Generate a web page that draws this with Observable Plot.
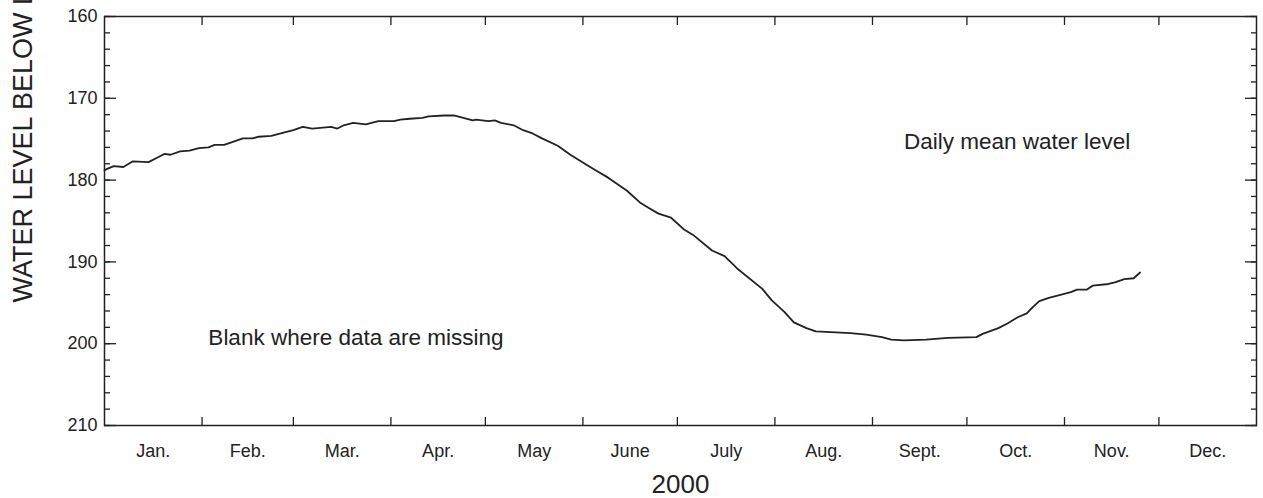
<!DOCTYPE html>
<html>
<head>
<meta charset="utf-8">
<script src="https://cdn.jsdelivr.net/npm/d3@7"></script>
<script src="https://cdn.jsdelivr.net/npm/@observablehq/plot@0.6"></script>
<style>
  body { margin: 0; background: #fff; }
</style>
</head>
<body>
<div id="chart"></div>
<script>
// Daily mean water level, 2000 (feet below land surface)
const dates = [
  "2000-01-01","2000-01-02","2000-01-04","2000-01-07","2000-01-10","2000-01-15","2000-01-18","2000-01-20",
  "2000-01-22","2000-01-25","2000-01-28","2000-01-31","2000-02-03","2000-02-05","2000-02-08","2000-02-11",
  "2000-02-14","2000-02-17","2000-02-19","2000-02-23","2000-02-26","2000-03-01","2000-03-04","2000-03-07",
  "2000-03-13","2000-03-15","2000-03-17","2000-03-20","2000-03-24","2000-03-28","2000-04-02","2000-04-04",
  "2000-04-07","2000-04-11","2000-04-13","2000-04-18","2000-04-21","2000-04-24","2000-04-27","2000-04-28",
  "2000-05-02","2000-05-04","2000-05-06","2000-05-10","2000-05-13","2000-05-16","2000-05-19","2000-05-24",
  "2000-05-28","2000-06-02","2000-06-05","2000-06-09","2000-06-12","2000-06-15","2000-06-19","2000-06-21",
  "2000-06-25","2000-06-29","2000-07-03","2000-07-06","2000-07-12","2000-07-16","2000-07-20","2000-07-28",
  "2000-07-31","2000-08-04","2000-08-07","2000-08-11","2000-08-14","2000-08-25","2000-08-30","2000-09-04",
  "2000-09-07","2000-09-11","2000-09-18","2000-09-25","2000-10-04","2000-10-06","2000-10-11","2000-10-14",
  "2000-10-17","2000-10-20","2000-10-22","2000-10-24","2000-10-27","2000-10-31","2000-11-03","2000-11-05",
  "2000-11-08","2000-11-10","2000-11-15","2000-11-17","2000-11-20","2000-11-23","2000-11-25"
];
const levels = [
  178.8,178.6,178.3,178.4,177.7,177.8,177.2,176.8,
  176.9,176.5,176.4,176.1,176.0,175.7,175.7,175.3,
  174.9,174.9,174.7,174.6,174.3,173.9,173.5,173.7,
  173.5,173.7,173.3,173.0,173.2,172.8,172.8,172.6,
  172.5,172.4,172.2,172.1,172.1,172.4,172.7,172.6,
  172.8,172.7,173.0,173.3,173.9,174.3,174.9,175.8,
  176.9,178.1,178.8,179.7,180.5,181.3,182.7,183.2,
  184.1,184.6,186.0,186.7,188.6,189.3,190.8,193.3,
  194.7,196.1,197.4,198.1,198.5,198.7,198.9,199.2,
  199.5,199.6,199.5,199.3,199.2,198.8,198.1,197.5,
  196.8,196.3,195.5,194.8,194.4,194.0,193.7,193.4,
  193.4,192.9,192.7,192.5,192.1,192.0,191.3
];

const monthLabels = ["Jan.","Feb.","Mar.","Apr.","May","June","July","Aug.","Sept.","Oct.","Nov.","Dec."];
const yearLabel = "2000";
const yTitle = "WATER LEVEL BELOW LAND SURFACE, IN FEET";

// In-plot notes
const noteTexts = ["Daily mean water level", "Blank where data are missing"];
const noteDates = ["2000-09-11", "2000-02-03"];
const noteLevels = [175.26, 199.22];

const majorLevels = d3.range(160, 211, 10);
const minorLevels = d3.range(160, 211, 2);

const parse = d3.utcParse("%Y-%m-%d");
const rows = dates.map((d, i) => ({date: parse(d), level: levels[i]}));
const notes = noteTexts.map((t, i) => ({text: t, date: parse(noteDates[i]), level: noteLevels[i]}));

const start = new Date(Date.UTC(2000, 0, 1));
const end = new Date(Date.UTC(2001, 0, 1));
const monthStarts = d3.utcMonths(start, end);
const monthBounds = monthStarts.slice(1);
const monthMids = monthStarts.map(m => {
  const next = d3.utcMonth.offset(m, 1);
  return new Date((+m + +next) / 2);
});

const ink = "#222";
const blank = () => "";

const chart = Plot.plot({
  width: 1263,
  height: 498,
  marginLeft: 104,
  marginRight: 7,
  marginTop: 16,
  marginBottom: 73,
  style: {
    fontFamily: "'Liberation Sans', Arial, Helvetica, sans-serif",
    fontSize: "18px",
    color: ink,
    background: "#fff"
  },
  x: {type: "utc", domain: [start, end], label: null},
  y: {domain: [160, 210], reverse: true, label: null},
  marks: [
    // left axis: labelled major ticks and minor ticks, drawn inward
    Plot.axisY({ticks: majorLevels, tickSize: -12, tickPadding: 19, strokeWidth: 1.3, label: null}),
    Plot.axisY({ticks: minorLevels, tickSize: -6, tickFormat: blank, strokeWidth: 1.3, label: null}),
    // right axis: mirrored ticks
    Plot.axisY({anchor: "right", ticks: majorLevels, tickSize: -12, tickFormat: blank, strokeWidth: 1.3, label: null}),
    Plot.axisY({anchor: "right", ticks: minorLevels, tickSize: -6, tickFormat: blank, strokeWidth: 1.3, label: null}),
    // month boundaries on bottom and top
    Plot.axisX({ticks: monthBounds, tickSize: -8, tickFormat: blank, strokeWidth: 1.3, label: null}),
    Plot.axisX({anchor: "top", ticks: monthBounds, tickSize: -8, tickFormat: blank, strokeWidth: 1.3, label: null}),
    // month names centred in each month
    Plot.axisX({ticks: monthMids, tickSize: 0, tickPadding: 19, tickFormat: d => monthLabels[d.getUTCMonth()], label: null}),
    Plot.frame({stroke: ink, strokeWidth: 1.5}),
    Plot.line(rows, {x: "date", y: "level", stroke: ink, strokeWidth: 1.8}),
    Plot.text(notes, {x: "date", y: "level", text: "text", textAnchor: "start", lineAnchor: "middle", fontSize: 22.5, fill: ink}),
    Plot.text([yearLabel], {frameAnchor: "bottom", dy: 59, lineAnchor: "middle", fontSize: 26, fill: ink}),
    Plot.text([yTitle], {frameAnchor: "bottom-left", rotate: -90, textAnchor: "start", lineAnchor: "middle", dx: -81, dy: -123, fontSize: 27, fill: ink})
  ]
});

document.getElementById("chart").appendChild(chart);
</script>
</body>
</html>
